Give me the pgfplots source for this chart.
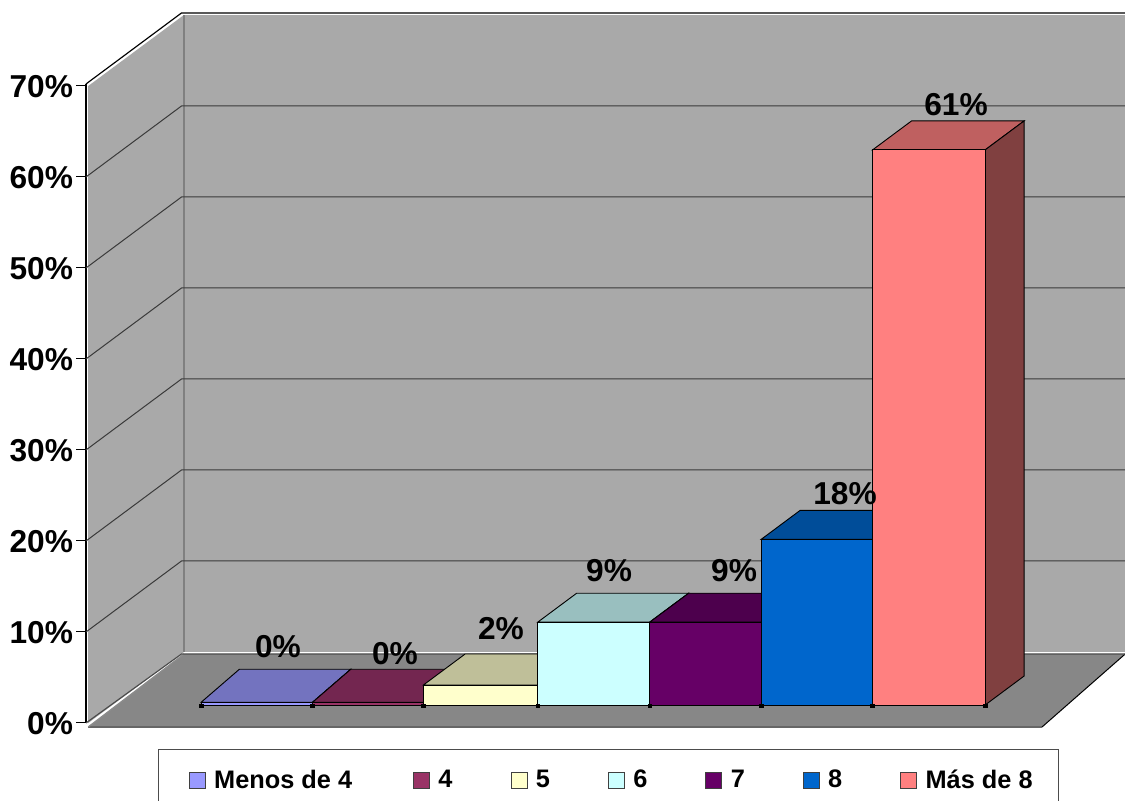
\documentclass[border=0pt]{standalone}
\usepackage{pgfplots}
\pgfplotsset{compat=1.18}
\usepackage{fontspec}
\setmainfont{Liberation Sans}
\definecolor{wall}{HTML}{A9A9A9}
\definecolor{floorc}{HTML}{878787}
\definecolor{gridc}{HTML}{3A3A3A}
\definecolor{c1}{HTML}{9999FF}\definecolor{t1}{HTML}{7373BF}\definecolor{s1}{HTML}{4D4D80}
\definecolor{c2}{HTML}{993366}\definecolor{t2}{HTML}{732650}\definecolor{s2}{HTML}{4D1A33}
\definecolor{c3}{HTML}{FFFFCC}\definecolor{t3}{HTML}{BFBF99}\definecolor{s3}{HTML}{808066}
\definecolor{c4}{HTML}{CCFFFF}\definecolor{t4}{HTML}{99BFBF}\definecolor{s4}{HTML}{668080}
\definecolor{c5}{HTML}{660066}\definecolor{t5}{HTML}{4D004D}\definecolor{s5}{HTML}{330033}
\definecolor{c6}{HTML}{0066CC}\definecolor{t6}{HTML}{004D99}\definecolor{s6}{HTML}{003366}
\definecolor{c7}{HTML}{FF8080}\definecolor{t7}{HTML}{BF6060}\definecolor{s7}{HTML}{804040}
% #1 left x, #2 right x, #3 value, #4 colour index, #5 back depth, #6 back left x, #7 back right x
\newcommand{\BarThreeD}[7]{%
  \addplot3[forget plot,draw=black,line width=0.55pt,fill=t#4] coordinates {(#1,0.2535,#3) (#2,0.2535,#3) (#7,#5,#3) (#6,#5,#3)} --cycle;
  \addplot3[forget plot,draw=black,line width=0.55pt,fill=s#4] coordinates {(#2,0.2535,0) (#7,#5,0) (#7,#5,#3) (#2,0.2535,#3)} --cycle;
  \addplot3[draw=black,line width=0.55pt,fill=c#4,swatch] coordinates {(#1,0.2535,0) (#2,0.2535,0) (#2,0.2535,#3) (#1,0.2535,#3)} --cycle;
}
\pgfplotsset{swatch/.style={legend image code/.code={\draw[#1,draw=black!75,line width=0.6pt] (0pt,-4.8pt) rectangle (9.6pt,4.8pt);}}}
\newcommand{\gap}{\rule{32.8pt}{0pt}}
\begin{document}
\begin{tikzpicture}[x=1pt,y=1pt]
\path[use as bounding box,clip] (0,0) rectangle (675,480.6);
\begin{axis}[
  at={(51.6pt,46.8pt)},anchor=origin,
  x={(67.2pt,0pt)},y={(57.3pt,42.6pt)},z={(0pt,5.46pt)},
  xmin=0,xmax=9.4,ymin=0,ymax=1,zmin=0,zmax=70.22,
  clip=false,
  axis lines=left,
  x axis line style={draw=none},y axis line style={draw=none},
  z axis line style={draw=black,line width=0.7pt,-},
  xtick=\empty,ytick=\empty,
  ztick={0,10,20,30,40,50,60,70},
  zticklabel={\pgfmathprintnumber[assume math mode=true]{\tick}\%},
  major tick length=0pt,
  z tick label style={font=\fontsize{19}{19}\selectfont\bfseries,inner sep=0pt,anchor=east,xshift=-7.6pt,yshift=-0.6pt},
  legend columns=7,
  legend cell align=left,
  legend style={
    at={(49.4pt,-13.4pt)},anchor=north west,
    draw=black!70,line width=0.6pt,
    font=\fontsize{15.2}{15.2}\selectfont\bfseries,
    inner xsep=18pt,inner ysep=10pt,
  },
]
% walls
\addplot3[forget plot,draw=none,fill=wall] coordinates {(0.02,0,0) (0.022,1,0) (0.022,1,70) (0.02,0,70)} --cycle;
\addplot3[forget plot,draw=none,fill=wall] coordinates {(0.022,1,0) (9.4,1,0) (9.4,1,70) (0.022,1,70)} --cycle;
% floor
\addplot3[forget plot,draw=none,fill=floorc] coordinates {(0.02,0,-0.44) (8.536,0,-0.44) (8.426,1,-0.22) (0.022,1,-0.22)} --cycle;
\addplot3[forget plot,draw=black!60,line width=0.8pt] coordinates {(0.02,0,-0.44) (8.536,0,-0.44)};
\addplot3[forget plot,draw=black!45,line width=0.8pt] coordinates {(0.02,0,-0.44) (0.022,1,-0.22)};
\addplot3[forget plot,draw=black,line width=0.6pt] coordinates {(8.536,0,-0.44) (8.426,1,-0.22)};
\addplot3[forget plot,draw=black!50,line width=0.8pt] coordinates {(0.022,1,0) (0.022,1,70)};
% grid
\addplot3[forget plot,draw=black!70,line width=0.7pt] coordinates {(0,0,0) (0,1,-0.22) (9.4,1,-0.22)};
\addplot3[forget plot,draw=gridc,line width=0.6pt] coordinates {(0,0,10) (0,1,10) (9.4,1,10)};
\addplot3[forget plot,draw=gridc,line width=0.6pt] coordinates {(0,0,20) (0,1,20) (9.4,1,20)};
\addplot3[forget plot,draw=gridc,line width=0.6pt] coordinates {(0,0,30) (0,1,30) (9.4,1,30)};
\addplot3[forget plot,draw=gridc,line width=0.6pt] coordinates {(0,0,40) (0,1,40) (9.4,1,40)};
\addplot3[forget plot,draw=gridc,line width=0.6pt] coordinates {(0,0,50) (0,1,50) (9.4,1,50)};
\addplot3[forget plot,draw=gridc,line width=0.6pt] coordinates {(0,0,60) (0,1,60) (9.4,1,60)};
\addplot3[forget plot,draw=black,line width=0.7pt] coordinates {(0,0,70.22) (0,1,70.22) (9.4,1,70.22)};
% tick marks on the value axis
\addplot3[forget plot,draw=black,line width=0.6pt] coordinates {(-0.089,0,0) (0,0,0)};
\addplot3[forget plot,draw=black,line width=0.6pt] coordinates {(-0.089,0,10) (0,0,10)};
\addplot3[forget plot,draw=black,line width=0.6pt] coordinates {(-0.089,0,20) (0,0,20)};
\addplot3[forget plot,draw=black,line width=0.6pt] coordinates {(-0.089,0,30) (0,0,30)};
\addplot3[forget plot,draw=black,line width=0.6pt] coordinates {(-0.089,0,40) (0,0,40)};
\addplot3[forget plot,draw=black,line width=0.6pt] coordinates {(-0.089,0,50) (0,0,50)};
\addplot3[forget plot,draw=black,line width=0.6pt] coordinates {(-0.089,0,60) (0,0,60)};
\addplot3[forget plot,draw=black,line width=0.6pt] coordinates {(-0.089,0,70) (0,0,70)};
% bars
\BarThreeD{0.812}{1.807}{0.3}{1}{0.718}{0.757}{1.752}\addlegendentry{\kern3pt Menos de 4\gap\kern1.8pt}
\BarThreeD{1.807}{2.797}{0.3}{2}{0.718}{1.752}{2.742}\addlegendentry{\kern3pt 4\gap}
\BarThreeD{2.797}{3.817}{2.2}{3}{0.690}{2.797}{3.817}\addlegendentry{\kern3pt 5\gap}
\BarThreeD{3.817}{4.817}{9.1}{4}{0.6615}{3.817}{4.817}\addlegendentry{\kern3pt 6\gap}
\BarThreeD{4.817}{5.812}{9.1}{5}{0.6615}{4.817}{5.812}\addlegendentry{\kern3pt 7\gap}
\BarThreeD{5.812}{6.807}{18.2}{6}{0.6615}{5.812}{6.807}\addlegendentry{\kern3pt 8\gap}
\BarThreeD{6.807}{7.812}{61.0}{7}{0.6615}{6.807}{7.812}\addlegendentry{\kern3pt Más de 8\kern-4.2pt}
% x-axis tick markers
\addplot3[forget plot,only marks,mark=square*,mark size=1.1pt,mark options={fill=black,draw=none}] coordinates {(0.812,0.2535,-0.1) (1.807,0.2535,-0.1) (2.797,0.2535,-0.1) (3.817,0.2535,-0.1) (4.817,0.2535,-0.1) (5.812,0.2535,-0.1) (6.807,0.2535,-0.1) (7.812,0.2535,-0.1)};
% data labels
\begin{scope}[every node/.style={font=\fontsize{19}{19}\selectfont\bfseries,inner sep=0pt}]
\node at (axis cs:1.714,0,8.35) {0\%};
\node at (axis cs:2.759,0,7.58) {0\%};
\node at (axis cs:3.705,0,10.33) {2\%};
\node at (axis cs:4.67,0,16.7) {9\%};
\node at (axis cs:5.786,0,16.7) {9\%};
\node at (axis cs:6.777,0,25.16) {18\%};
\node at (axis cs:7.768,0,68.0) {61\%};
\end{scope}
\end{axis}
\end{tikzpicture}
\end{document}
